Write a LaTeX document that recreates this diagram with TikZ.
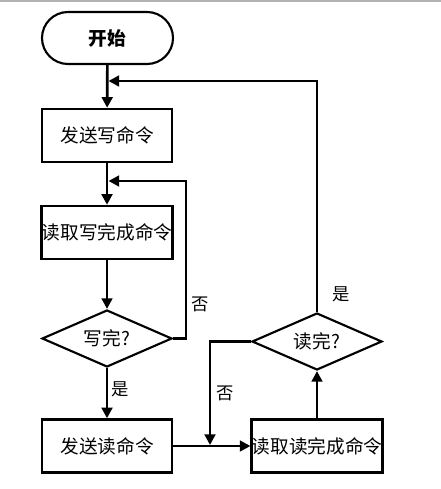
\documentclass[tikz,border=0pt]{standalone}
\usepackage{fontspec}
\newfontfamily\cjk{Noto Sans CJK SC}
\usetikzlibrary{arrows.meta,shapes.geometric}
\tikzset{
	flowbox/.style={draw, line width=1.8pt, minimum width=97.5pt, minimum height=39.75pt, inner sep=0pt, font=\cjk\fontsize{14}{16}\selectfont},
	startbox/.style={flowbox, rounded corners=19.5pt, line width=1.6pt, minimum width=98.25pt, minimum height=39pt, font=\cjk\bfseries\fontsize{14}{16}\selectfont},
	decide/.style={draw, diamond, line width=1.6pt, aspect=2.28, minimum width=97.5pt, minimum height=42.75pt, inner sep=0pt, font=\cjk\fontsize{14}{16}\selectfont},
	lbl/.style={font=\cjk\fontsize{13}{15}\selectfont, inner sep=0pt},
	flow/.style={line width=2pt, -{Triangle[length=8pt,width=8pt]}},
	wire/.style={line width=2pt}
}
\begin{document}
\begin{tikzpicture}[x=0.75pt, y=-0.75pt]
		%%%%% START %%%%%
		\useasboundingbox (0, 0) rectangle (441, 489);
		\draw[line width=1.5pt, color=black!30] (0, 1) -- (441, 1);
		
		\node[startbox] (start) at (107.5, 38) {开始};
		\node[flowbox] (sendw) at (107, 135.5) {发送写命令};
		\node[flowbox] (readw) at (107, 232.5) {读取写完成命令};
		\node[decide] (donew) at (107, 338.5) {写完?};
		\node[flowbox] (sendr) at (107, 446) {发送读命令};
		\node[flowbox] (readr) at (317, 446) {读取读完成命令};
		\node[decide] (doner) at (317, 341.5) {读完?};
		
		\coordinate (joinw) at (108.5, 181);
		\coordinate (joins) at (108.5, 81);
		\coordinate (joinr) at (210, 445);
		
		\draw[flow] (start) -- (sendw);
		\draw[flow] (sendw) -- (readw);
		\draw[flow] (readw) -- (donew);
		\draw[flow] (donew) -- (sendr);
		\draw[flow] (sendr) -- (readr);
		\draw[flow] (readr) -- (doner);
		
		\draw[flow] (donew.east) -- (186, 338.5) |- (joinw);
		\draw[flow] (doner.north) |- (joins);
		\draw[flow] (doner.west) -| (joinr);
		
		\node[lbl] (nw) at (200, 304) {否};
		\node[lbl] (yw) at (120, 389) {是};
		\node[lbl] (nr) at (225, 393) {否};
		\node[lbl] (yr) at (341, 294) {是};
		
		%%%%% END %%%%%
	\end{tikzpicture}
\end{document}
